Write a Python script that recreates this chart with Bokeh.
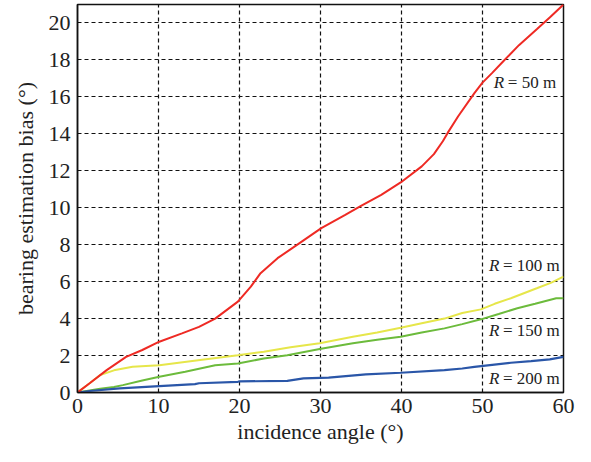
from bokeh.plotting import figure
from bokeh.models import Range1d, FixedTicker
from bokeh.core.properties import value
from bokeh.embed import file_html
from bokeh.resources import INLINE

# Data
r50_x = [0, 1.5, 3.6, 6.0, 8.0, 10.1, 12.9, 15.0, 17.0, 19.8, 21.4, 22.6, 24.7, 27.1, 30.1, 33.0, 35.0, 37.5, 39.9, 42.5, 44.0, 45.1, 45.7, 47.0, 49.0, 50.0, 51.2, 52.6, 54.5, 56.7, 58.3, 60.0]
r50_y = [0, 0.5, 1.21, 1.93, 2.3, 2.75, 3.2, 3.55, 4.0, 4.92, 5.73, 6.46, 7.27, 7.99, 8.9, 9.6, 10.1, 10.7, 11.37, 12.24, 12.9, 13.6, 14.05, 14.95, 16.2, 16.77, 17.3, 17.94, 18.8, 19.66, 20.3, 21.0]

r100_x = [0, 1.5, 2.8, 4.5, 6.8, 10.1, 14.9, 19.8, 23.0, 26.3, 29.9, 34.0, 37.0, 39.9, 42.5, 45.3, 47.5, 49.8, 51.5, 53.5, 56.7, 58.5, 60.0]
r100_y = [0, 0.5, 0.95, 1.2, 1.39, 1.48, 1.75, 2.02, 2.2, 2.45, 2.66, 3.02, 3.25, 3.5, 3.75, 4.0, 4.3, 4.5, 4.8, 5.1, 5.64, 5.95, 6.27]

r150_x = [0, 2.8, 4.5, 5.6, 8.0, 10.1, 13.3, 17.0, 19.8, 23.0, 25.9, 29.9, 34.0, 37.0, 39.9, 42.5, 45.3, 47.5, 49.8, 52.0, 54.3, 56.5, 59.1, 60.0]
r150_y = [0, 0.2, 0.3, 0.4, 0.65, 0.85, 1.12, 1.48, 1.57, 1.84, 2.02, 2.35, 2.66, 2.85, 3.02, 3.25, 3.47, 3.7, 3.96, 4.25, 4.56, 4.8, 5.1, 5.1]

r200_x = [0, 1.5, 5.2, 10.1, 14.5, 15.0, 19.8, 20.0, 25.9, 27.9, 31.0, 35.6, 39.9, 45.3, 47.5, 49.0, 53.5, 56.0, 58.3, 60.0]
r200_y = [0, 0.08, 0.22, 0.34, 0.45, 0.5, 0.58, 0.6, 0.63, 0.76, 0.8, 0.98, 1.07, 1.21, 1.3, 1.39, 1.61, 1.7, 1.79, 1.93]

x_ticks = [0, 10, 20, 30, 40, 50, 60]
y_ticks = [0, 2, 4, 6, 8, 10, 12, 14, 16, 18, 20]

label_x = [51.4, 50.8, 50.8, 50.8]
label_y = [16.8, 6.85, 3.38, 0.76]
label_text = ["= 50 m", "= 100 m", "= 150 m", "= 200 m"]

colors = ["#EE2A24", "#E6E64A", "#6CBB3C", "#2A56A8"]

FONT = "Liberation Serif"
TXT = "#222222"

p = figure(width=575, height=446, output_backend="svg", toolbar_location=None,
           x_range=Range1d(0, 60), y_range=Range1d(0, 21),
           min_border_left=77, min_border_right=12, min_border_top=4, min_border_bottom=10)

p.line(r150_x, r150_y, line_color=colors[2], line_width=2)
p.line(r100_x, r100_y, line_color=colors[1], line_width=2)
p.line(r200_x, r200_y, line_color=colors[3], line_width=2.2)
p.line(r50_x, r50_y, line_color=colors[0], line_width=2)

p.text(label_x, label_y, text=["R"] * 4, text_font=value(FONT), text_font_style="italic",
       text_font_size="17px", text_color=TXT, text_baseline="middle", text_align="left")
p.text(label_x, label_y, text=label_text, text_font=value(FONT),
       text_font_size="17px", text_font_style="normal", text_color=TXT,
       text_baseline="middle", text_align="left", x_offset=14)

p.xaxis.ticker = FixedTicker(ticks=x_ticks)
p.yaxis.ticker = FixedTicker(ticks=y_ticks)
for ax in (p.xaxis, p.yaxis):
    ax.major_label_text_font = FONT
    ax.major_label_text_font_size = "22px"
    ax.major_label_text_color = TXT
    ax.major_label_text_font_style = "normal"
    ax.axis_label_text_font = FONT
    ax.axis_label_text_font_size = "22px"
    ax.axis_label_text_font_style = "normal"
    ax.axis_label_text_color = TXT
    ax.major_tick_out = 0
    ax.major_tick_in = 0
    ax.minor_tick_out = 0
    ax.minor_tick_in = 0
    ax.axis_line_color = "#111111"
    ax.axis_line_width = 1.5

p.xaxis.axis_label = "incidence angle (°)"
p.yaxis.axis_label = "bearing estimation bias (°)"
p.xaxis.major_label_standoff = 6
p.yaxis.major_label_standoff = 7
p.xaxis.axis_label_standoff = 3
p.yaxis.axis_label_standoff = 8

p.grid.grid_line_color = "#111111"
p.grid.grid_line_dash = "4 3"
p.grid.grid_line_width = 1.2
p.outline_line_color = "#111111"
p.outline_line_width = 1.5
p.outline_line_alpha = 1.0

open("out.html", "w").write(file_html(p, INLINE))
